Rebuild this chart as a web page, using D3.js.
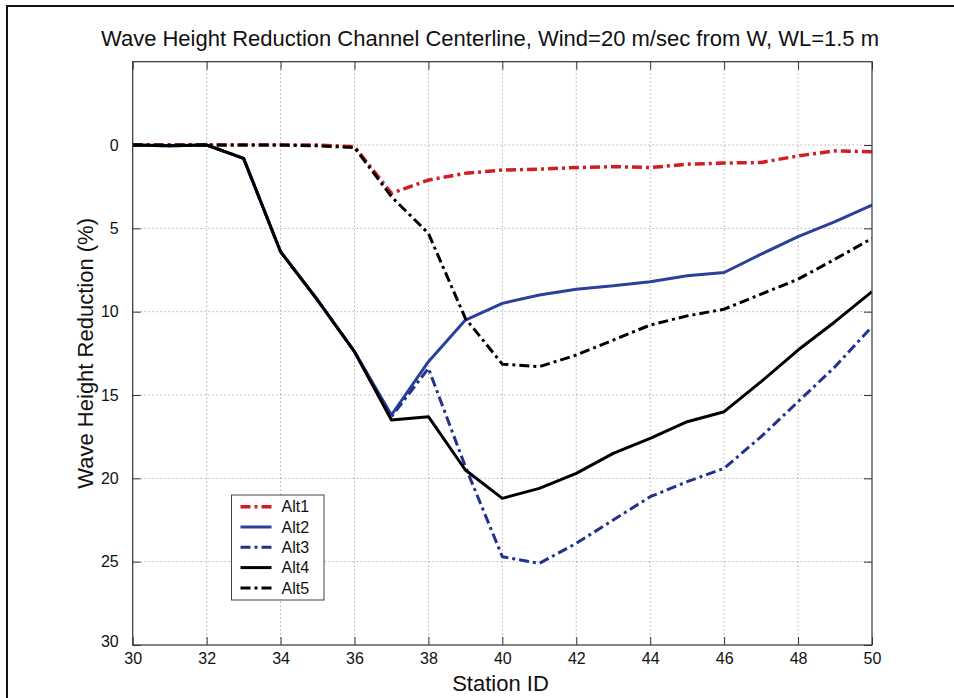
<!DOCTYPE html>
<html>
<head>
<meta charset="utf-8">
<script src="https://cdn.jsdelivr.net/npm/d3@7"></script>
<style>
  body { margin: 0; background: #fff; }
  text { font-family: "Liberation Sans", Arial, sans-serif; fill: #111; }
</style>
</head>
<body>
<svg id="chart"></svg>
<script>
var stations = d3.range(30, 51);

var alt1 = [0, 0, 0, 0, 0, 0, 0.1, 2.9, 2.1, 1.7, 1.5, 1.45, 1.35, 1.3, 1.35, 1.15, 1.08, 1.05, 0.65, 0.35, 0.4];
var alt2 = [0, 0.05, 0, 0.8, 6.4, 9.3, 12.4, 16.2, 13.0, 10.5, 9.5, 9.0, 8.65, 8.45, 8.2, 7.85, 7.65, 6.55, 5.5, 4.6, 3.6];
var alt3 = [0, 0.05, 0, 0.8, 6.4, 9.3, 12.4, 16.3, 13.4, 19.3, 24.7, 25.1, 23.9, 22.5, 21.1, 20.2, 19.4, 17.5, 15.4, 13.3, 10.9];
var alt4 = [0, 0.05, 0, 0.8, 6.4, 9.3, 12.4, 16.5, 16.3, 19.5, 21.2, 20.6, 19.7, 18.5, 17.6, 16.6, 16.0, 14.2, 12.3, 10.6, 8.8];
var alt5 = [0, 0, 0, 0, 0, 0.05, 0.15, 3.1, 5.3, 10.4, 13.15, 13.3, 12.6, 11.7, 10.8, 10.25, 9.85, 8.95, 8.05, 6.85, 5.6];

var xTicks = d3.range(30, 51, 2);
var yTicks = [0, 5, 10, 15, 20, 25, 30];

var series = [
  {name: "Alt1", values: alt1, color: "#cf1f24", dash: "10,4,3,4", width: 3.5},
  {name: "Alt2", values: alt2, color: "#2b3f9b", dash: null, width: 3},
  {name: "Alt3", values: alt3, color: "#22328f", dash: "10,4,3,4", width: 3},
  {name: "Alt4", values: alt4, color: "#000000", dash: null, width: 3},
  {name: "Alt5", values: alt5, color: "#000000", dash: "10,4,3,4", width: 3}
];

var W = 954, H = 698;
var pLeft = 132.7, pRight = 872, pTop = 61.7, pBottom = 645;

var svg = d3.select("#chart").attr("width", W).attr("height", H);

// outer figure frame (left + top edges visible)
svg.append("path")
  .attr("d", "M7," + H + "V6H" + W)
  .attr("fill", "none")
  .attr("stroke", "#111")
  .attr("stroke-width", 2);

var x = d3.scaleLinear().domain([30, 50]).range([pLeft, pRight]);
var y = d3.scaleLinear().domain([-5, 30]).range([pTop, pBottom]);

// grid
var grid = svg.append("g")
  .attr("stroke", "#888")
  .attr("stroke-width", 1)
  .attr("stroke-dasharray", "1,3");
grid.selectAll(".gx")
  .data(xTicks.filter(function(d) { return d > 30 && d < 50; }))
  .enter().append("line")
  .attr("x1", function(d) { return x(d); })
  .attr("x2", function(d) { return x(d); })
  .attr("y1", pTop).attr("y2", pBottom);
grid.selectAll(".gy")
  .data(yTicks.filter(function(d) { return d < 30; }))
  .enter().append("line")
  .attr("y1", function(d) { return y(d); })
  .attr("y2", function(d) { return y(d); })
  .attr("x1", pLeft).attr("x2", pRight);

var styleAxis = function(g) {
  g.select(".domain").remove();
  g.selectAll("line").attr("stroke", "#333");
  g.selectAll("text").attr("font-size", 16)
    .attr("font-family", "Liberation Sans, Arial, sans-serif").attr("fill", "#111");
};

// axes
svg.append("g")
  .attr("transform", "translate(0," + pBottom + ")")
  .call(d3.axisBottom(x).tickValues(xTicks).tickSizeInner(-8).tickSizeOuter(0).tickPadding(8))
  .call(styleAxis);
svg.append("g")
  .attr("transform", "translate(" + pLeft + ",0)")
  .call(d3.axisLeft(y).tickValues(yTicks).tickSizeInner(-8).tickSizeOuter(0).tickPadding(14))
  .call(styleAxis)
  .call(function(g) {
    g.selectAll(".tick").filter(function(d) { return d === 30; })
      .select("text").attr("dy", "0.1em");
  });
svg.append("g")
  .attr("transform", "translate(" + pRight + ",0)")
  .call(d3.axisRight(y).tickValues(yTicks).tickSizeInner(-8).tickSizeOuter(0).tickFormat(""))
  .call(styleAxis);
svg.append("g")
  .attr("transform", "translate(0," + pTop + ")")
  .call(d3.axisTop(x).tickValues(xTicks).tickSizeInner(-8).tickSizeOuter(0).tickFormat(""))
  .call(styleAxis);

// clip
svg.append("clipPath").attr("id", "clip")
  .append("rect")
  .attr("x", pLeft).attr("y", pTop)
  .attr("width", pRight - pLeft).attr("height", pBottom - pTop);

var line = d3.line()
  .x(function(d, i) { return x(stations[i]); })
  .y(function(d) { return y(d); });

// later alternatives drawn on top, as in the original figure
svg.append("g").attr("clip-path", "url(#clip)")
  .selectAll("path")
  .data(series)
  .enter().append("path")
  .attr("d", function(s) { return line(s.values); })
  .attr("fill", "none")
  .attr("stroke", function(s) { return s.color; })
  .attr("stroke-width", function(s) { return s.width; })
  .attr("stroke-dasharray", function(s) { return s.dash; })
  .attr("stroke-linejoin", "round");

// plot box
svg.append("rect")
  .attr("x", pLeft).attr("y", pTop)
  .attr("width", pRight - pLeft).attr("height", pBottom - pTop)
  .attr("fill", "none")
  .attr("stroke", "#333")
  .attr("stroke-width", 1.2);

// legend
var lg = svg.append("g").attr("transform", "translate(231.5,495)");
lg.append("rect")
  .attr("width", 92.5).attr("height", 105)
  .attr("fill", "#fff")
  .attr("stroke", "#444")
  .attr("stroke-width", 1);
var items = lg.selectAll(".item")
  .data(series)
  .enter().append("g")
  .attr("transform", function(d, i) { return "translate(0," + (11.7 + i * 20.3) + ")"; });
items.append("line")
  .attr("x1", 9).attr("x2", 40)
  .attr("stroke", function(s) { return s.color; })
  .attr("stroke-width", function(s) { return s.width; })
  .attr("stroke-dasharray", function(s) { return s.dash; });
items.append("text")
  .attr("x", 50).attr("dy", "0.35em")
  .attr("font-size", 16)
  .text(function(s) { return s.name; });

// title and labels
svg.append("text")
  .attr("x", 490).attr("y", 46)
  .attr("text-anchor", "middle")
  .attr("font-size", 22)
  .text("Wave Height Reduction Channel Centerline, Wind=20 m/sec from W, WL=1.5 m");

svg.append("text")
  .attr("x", 500.5).attr("y", 691)
  .attr("text-anchor", "middle")
  .attr("font-size", 22)
  .text("Station ID");

svg.append("text")
  .attr("transform", "translate(93," + ((pTop + pBottom) / 2) + ") rotate(-90)")
  .attr("text-anchor", "middle")
  .attr("font-size", 22)
  .text("Wave Height Reduction (%)");
</script>
</body>
</html>
